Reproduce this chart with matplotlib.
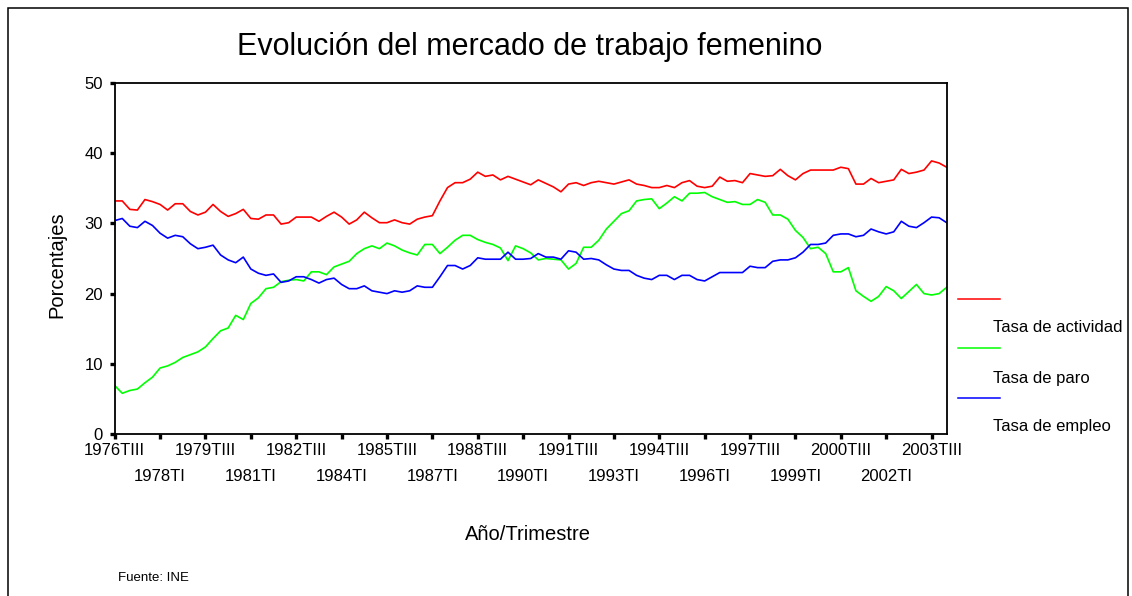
import matplotlib
matplotlib.use("Agg")
import matplotlib.pyplot as plt
from matplotlib.lines import Line2D
from matplotlib.patches import Rectangle

plt.rcParams["font.family"] = ["Liberation Sans", "DejaVu Sans"]

# quarterly series, 1976TIII .. 2004TI
ACTIVIDAD = [
    33.2, 33.2, 32.0, 31.9, 33.4, 33.1, 32.7, 31.9, 32.8, 32.8,
    31.7, 31.2, 31.6, 32.7, 31.7, 31.0, 31.4, 32.0, 30.7, 30.6,
    31.2, 31.2, 29.9, 30.1, 30.9, 30.9, 30.9, 30.3, 31.0, 31.6,
    30.9, 29.9, 30.5, 31.6, 30.8, 30.1, 30.1, 30.5, 30.1, 29.9,
    30.6, 30.9, 31.1, 33.2, 35.1, 35.8, 35.8, 36.3, 37.3, 36.7,
    36.9, 36.2, 36.7, 36.3, 35.9, 35.5, 36.2, 35.7, 35.2, 34.5,
    35.6, 35.8, 35.4, 35.8, 36.0, 35.8, 35.6, 35.9, 36.2, 35.6,
    35.4, 35.1, 35.1, 35.4, 35.1, 35.8, 36.1, 35.3, 35.1, 35.3,
    36.6, 36.0, 36.1, 35.8, 37.1, 36.9, 36.7, 36.8, 37.7, 36.8,
    36.2, 37.1, 37.6, 37.6, 37.6, 37.6, 38.0, 37.8, 35.6, 35.6,
    36.4, 35.8, 36.0, 36.2, 37.7, 37.1, 37.3, 37.6, 38.9, 38.6,
    38.0,
]
PARO = [
    6.9, 5.8, 6.2, 6.4, 7.3, 8.1, 9.4, 9.7, 10.2, 10.9,
    11.3, 11.7, 12.4, 13.6, 14.7, 15.1, 16.9, 16.3, 18.6, 19.4,
    20.7, 20.9, 21.7, 21.9, 22.0, 21.8, 23.1, 23.1, 22.7, 23.8,
    24.2, 24.6, 25.7, 26.4, 26.8, 26.4, 27.2, 26.8, 26.2, 25.8,
    25.5, 27.0, 27.0, 25.7, 26.6, 27.6, 28.3, 28.3, 27.7, 27.3,
    27.0, 26.5, 24.7, 26.8, 26.4, 25.8, 24.8, 25.0, 24.9, 24.8,
    23.5, 24.3, 26.6, 26.6, 27.6, 29.2, 30.3, 31.4, 31.8, 33.2,
    33.4, 33.5, 32.1, 32.9, 33.8, 33.2, 34.3, 34.3, 34.4, 33.8,
    33.4, 33.0, 33.1, 32.7, 32.7, 33.4, 33.0, 31.2, 31.2, 30.6,
    29.0, 28.0, 26.4, 26.6, 25.7, 23.1, 23.1, 23.7, 20.4, 19.6,
    18.9, 19.6, 21.0, 20.4, 19.3, 20.3, 21.3, 20.0, 19.8, 20.0,
    20.9,
]
EMPLEO = [
    30.4, 30.7, 29.6, 29.4, 30.3, 29.7, 28.6, 27.9, 28.3, 28.1,
    27.1, 26.4, 26.6, 26.9, 25.5, 24.8, 24.4, 25.2, 23.5, 22.9,
    22.6, 22.8, 21.6, 21.8, 22.4, 22.4, 22.0, 21.5, 22.0, 22.2,
    21.3, 20.7, 20.7, 21.1, 20.4, 20.2, 20.0, 20.4, 20.2, 20.4,
    21.1, 20.9, 20.9, 22.4, 24.0, 24.0, 23.5, 24.0, 25.1, 24.9,
    24.9, 24.9, 25.9, 24.9, 24.9, 25.0, 25.7, 25.2, 25.2, 24.9,
    26.1, 25.9, 24.9, 25.0, 24.8, 24.1, 23.5, 23.3, 23.3, 22.6,
    22.2, 22.0, 22.6, 22.6, 22.0, 22.6, 22.6, 22.0, 21.8, 22.4,
    23.0, 23.0, 23.0, 23.0, 23.9, 23.7, 23.7, 24.6, 24.8, 24.8,
    25.1, 25.9, 27.0, 27.0, 27.2, 28.3, 28.5, 28.5, 28.1, 28.3,
    29.2, 28.8, 28.5, 28.8, 30.3, 29.6, 29.4, 30.1, 30.9, 30.8,
    30.1,
]

TICK_LABELS = [
    "1976TIII", "1978TI", "1979TIII", "1981TI", "1982TIII", "1984TI",
    "1985TIII", "1987TI", "1988TIII", "1990TI", "1991TIII", "1993TI",
    "1994TIII", "1996TI", "1997TIII", "1999TI", "2000TIII", "2002TI",
    "2003TIII",
]
TICK_STEP = 6  # one label every six quarters

SERIES = [
    ("Tasa de actividad", ACTIVIDAD, "#ff0000"),
    ("Tasa de paro", PARO, "#00ff00"),
    ("Tasa de empleo", EMPLEO, "#0000ff"),
]

W, H = 1132, 596
fig = plt.figure(figsize=(W / 100, H / 100), dpi=100)
ax = fig.add_axes([114.7 / W, 1 - 434 / H, 832 / W, 351 / H])

x = list(range(len(ACTIVIDAD)))
for name, vals, color in SERIES:
    ax.plot(x, vals, color=color, linewidth=1.2)

ax.set_xlim(0, len(x) - 1)
ax.set_ylim(0, 50)
ax.set_yticks([0, 10, 20, 30, 40, 50])

ticks = [i * TICK_STEP for i in range(len(TICK_LABELS))]
ax.set_xticks(ticks[0::2])
ax.set_xticklabels(TICK_LABELS[0::2])
ax.set_xticks(ticks[1::2], minor=True)
ax.set_xticklabels(TICK_LABELS[1::2], minor=True)

ax.tick_params(axis="both", which="both", direction="out", length=3.5, width=2.4,
               labelsize=12, color="black")
ax.tick_params(axis="x", which="major", pad=3)
ax.tick_params(axis="x", which="minor", pad=22)
ax.tick_params(axis="y", pad=5)
for s in ax.spines.values():
    s.set_linewidth(1.3)

fig.text(530 / W, 1 - 47 / H, "Evolución del mercado de trabajo femenino",
         fontsize=22, ha="center", va="center")
fig.text(57 / W, 1 - 265 / H, "Porcentajes", fontsize=14.5, rotation=90,
         ha="center", va="center")
fig.text(528 / W, 1 - 535 / H, "Año/Trimestre", fontsize=14.5,
         ha="center", va="center")
fig.text(118 / W, 1 - 578 / H, "Fuente: INE", fontsize=9.5, ha="left", va="center")

# legend drawn by hand: line above, label below
line_y = [298.5, 348, 397.5]
text_y = [328, 378, 427]
for (name, vals, color), ly, ty in zip(SERIES, line_y, text_y):
    fig.add_artist(Line2D([958 / W, 1000 / W], [1 - ly / H, 1 - ly / H],
                          color=color, linewidth=1.1))
    fig.text(993 / W, 1 - ty / H, name, fontsize=12, ha="left", va="center")

fig.add_artist(Rectangle((8 / W, -0.1), 1120 / W, 1.1 - 8 / H, fill=False,
                         edgecolor="black", linewidth=1.1))

fig.savefig("out.png", dpi=100)
